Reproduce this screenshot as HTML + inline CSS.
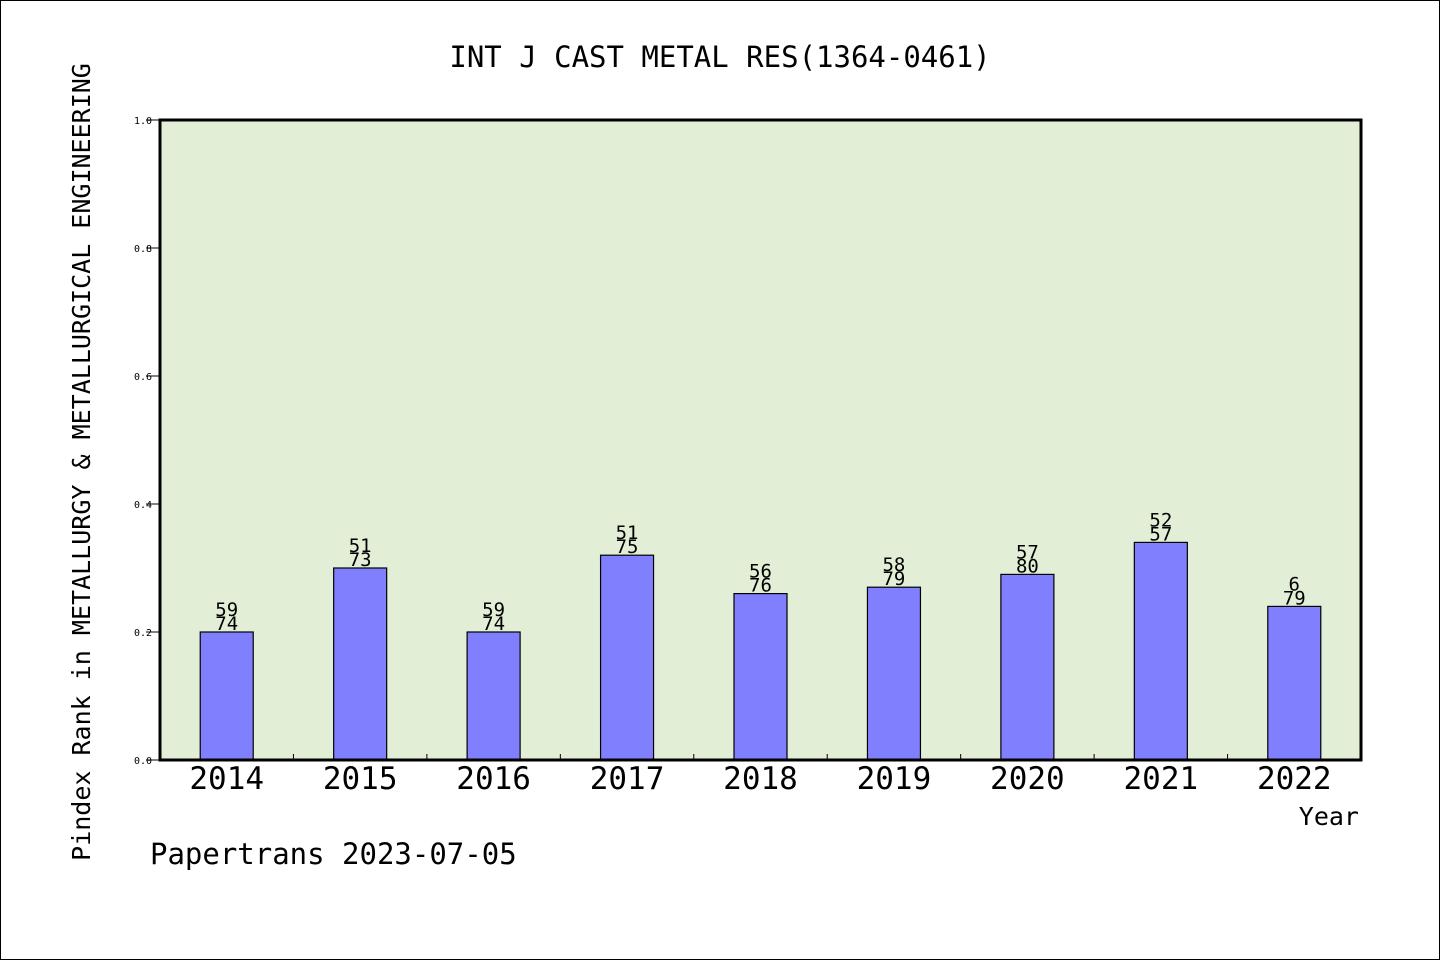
<!DOCTYPE html>
<html><head><meta charset="utf-8"><style>
body{margin:0;background:#fff}
svg{display:block;font-family:"DejaVu Sans Mono","Liberation Mono",monospace}
</style></head><body>
<svg width="1440" height="960">
<rect x="0.5" y="0.5" width="1439" height="959" fill="#fff" stroke="#000"/>
<text x="720" y="67" text-anchor="middle" font-size="29">INT J CAST METAL RES(1364-0461)</text>
<rect x="160" y="120" width="1201" height="640" fill="#e2efd6"/>
<g id="bars"></g>
<rect x="160" y="120" width="1201" height="640" fill="none" stroke="#000" stroke-width="3"/>
<g id="axes"></g>
<text transform="translate(90,462) rotate(-90)" text-anchor="middle" font-size="25">Pindex Rank in METALLURGY &amp; METALLURGICAL ENGINEERING</text>
<text x="1359" y="825" text-anchor="end" font-size="25">Year</text>
<text x="150" y="864" font-size="29">Papertrans 2023-07-05</text>
</svg>
<script>
const years=["2014","2015","2016","2017","2018","2019","2020","2021","2022"];
const values=[0.2,0.3,0.2,0.32,0.26,0.27,0.29,0.34,0.24];
const ranks=["59","51","59","51","56","58","57","52","6"];
const totals=["74","73","74","75","76","79","80","57","79"];
const yTicks=[0,0.2,0.4,0.6,0.8,1.0];
const NS="http://www.w3.org/2000/svg";
const X0=160,X1=1361,Y0=760,Y1=120;
const step=(X1-X0)/years.length;
const xc=i=>X0+step*(i+0.5);
const y=v=>Y0-(Y0-Y1)*v;
function mk(t,a,p){const e=document.createElementNS(NS,t);for(const k in a)e.setAttribute(k,a[k]);p.appendChild(e);return e;}
const bars=document.getElementById('bars'),axes=document.getElementById('axes');
years.forEach((yr,i)=>{
 const b=mk('rect',{x:xc(i)-26.5,y:y(values[i]),width:53,height:Y0-y(values[i]),fill:'#8080ff',stroke:'#000','stroke-width':1.2},bars);
 
 
 const t1=mk('text',{x:xc(i),y:y(values[i])-16,'text-anchor':'middle','font-size':19},bars);t1.textContent=ranks[i];
 
 
 const t2=mk('text',{x:xc(i),y:y(values[i])-2,'text-anchor':'middle','font-size':19},bars);t2.textContent=totals[i];
 
 
 const xl=mk('text',{x:xc(i),y:789,'text-anchor':'middle','font-size':31},axes);xl.textContent=yr;
 
 
 if(i>0){const tk=mk('line',{x1:X0+step*i,x2:X0+step*i,y1:Y0,y2:Y0-6,stroke:'#000'},axes);
 
 }
});
yTicks.forEach(v=>{
 const tk=mk('line',{x1:146,x2:160,y1:y(v),y2:y(v),stroke:'#000'},axes);
 
 
 const tl=mk('text',{x:152,y:y(v)+4,'text-anchor':'end','font-size':10},axes);tl.textContent=v.toFixed(1);
 
 
});
</script>
</body></html>
